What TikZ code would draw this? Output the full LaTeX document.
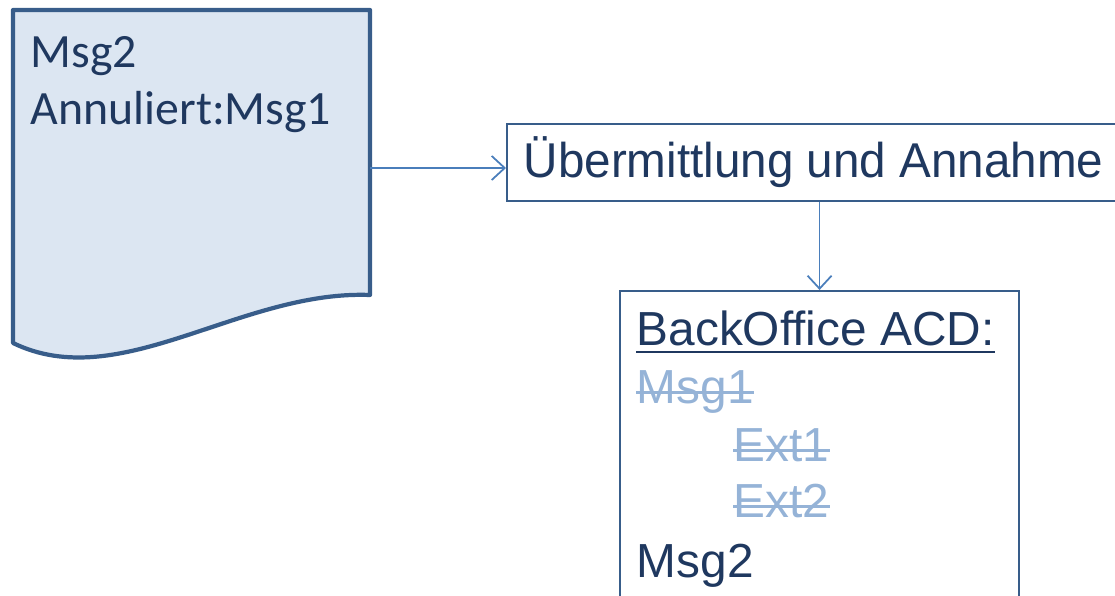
\documentclass[tikz,border=0pt]{standalone}
\usepackage{fontspec}
\usetikzlibrary{arrows.meta}
\setmainfont{Liberation Sans}
\newfontfamily\calfont{Carlito}
\newfontfamily\narrowsans[FakeStretch=0.975]{Liberation Sans}
\definecolor{docfill}{RGB}{220,230,242}
\definecolor{docline}{RGB}{56,93,138}
\definecolor{arrowblue}{RGB}{74,126,187}
\definecolor{textdark}{RGB}{31,56,95}
\definecolor{textfaded}{RGB}{149,179,215}
\tikzset{
  linea/.style={draw=arrowblue, line width=0.5pt, -{Straight Barb[length=1.3mm,width=2.4mm]}},
  caja/.style={draw=docline, line width=0.6pt, inner sep=0pt},
  texto/.style={anchor=base west, inner sep=0pt, text=textdark},
  tachado/.style={draw=textfaded, line width=0.8pt}
}
\begin{document}
\begin{tikzpicture}
                \useasboundingbox (0,0) rectangle (11.15,5.95);
                \draw[fill=docfill, draw=docline, line width=1.2pt, line join=round]
                  (0.13,5.85) -- (3.70,5.85) -- (3.70,3.00)
                  .. controls (2.40,3.05) and (1.20,2.00) .. (0.13,2.52) -- cycle; % documento
                \node[texto, font=\calfont\fontsize{13.6}{16}\selectfont] (msgA) at (0.30,5.27) {Msg2};
                \node[texto, font=\calfont\fontsize{13.6}{16}\selectfont] (annul) at (0.30,4.70) {Annuliert:Msg1};
                \coordinate (docR) at (3.70,4.27);
                \node[caja, anchor=north west, minimum width=6.2cm, minimum height=0.77cm] (uebm) at (5.06,4.72) {};
                \node[texto, font=\narrowsans\fontsize{13.9}{16}\selectfont] (uebmT) at (5.23,4.17) {Übermittlung und Annahme};
                \node[caja, anchor=north west, minimum width=3.99cm, minimum height=4cm] (acd) at (6.19,3.05) {};
                \node[texto, font=\fontsize{13.6}{16}\selectfont] (bo) at (6.36,2.49) {BackOffice ACD:};
                \node[texto, text=textfaded, font=\fontsize{13.6}{16}\selectfont] (m1) at (6.36,1.91) {Msg1};
                \node[texto, text=textfaded, font=\fontsize{13.6}{16}\selectfont] (e1) at (7.33,1.33) {Ext1};
                \node[texto, text=textfaded, font=\fontsize{13.6}{16}\selectfont] (e2) at (7.33,0.77) {Ext2};
                \node[texto, font=\fontsize{13.6}{16}\selectfont] (m2) at (6.36,0.18) {Msg2};
                \draw[draw=textdark, line width=0.8pt] ([yshift=-1.7pt]bo.base west) -- ([yshift=-1.7pt]bo.base east); % subrayado
                \foreach \t in {m1,e1,e2}
                \draw[tachado] ([yshift=3.2pt]\t.base west) -- ([yshift=3.2pt]\t.base east);
                \draw[linea] (docR) -- (docR -| uebm.west); % envio
                \draw[linea] (acd.north |- uebm.south) -- (acd.north);
\end{tikzpicture}
\end{document}
